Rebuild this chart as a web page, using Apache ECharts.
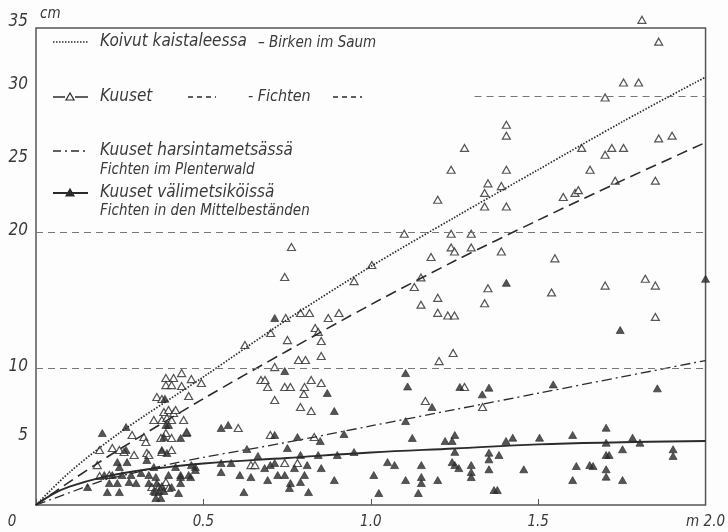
<!DOCTYPE html>
<html>
<head>
<meta charset="utf-8">
<script src="https://cdn.jsdelivr.net/npm/echarts@6/dist/echarts.min.js"></script>
<style>
  html, body { margin: 0; padding: 0; background: #fdfdfd; }
  #chart { width: 728px; height: 532px; }
</style>
</head>
<body>
<div id="chart"></div>
<script>
// Diameter (cm) against height (m) for birches and spruces

// x positions (m) for the fitted curves
var curveX = [0, 0.1, 0.25, 0.5, 0.75, 1.0, 1.25, 1.5, 1.75, 2.0];
// Koivut kaistaleessa – Birken im Saum (dotted)
var birchY = [0, 2.4, 5.3, 9.4, 13.6, 17.5, 21.1, 24.6, 28.1, 31.4];
// Kuuset – Fichten (dashed)
var spruceY = [0, 1.7, 4.1, 7.8, 11.3, 14.7, 17.9, 20.9, 23.8, 26.6];

// Kuuset harsintametsässä – Fichten im Plenterwald (dash-dot)
var plenterX = [0, 0.1, 0.2, 0.3, 0.4, 0.5, 0.75, 1.0, 1.25, 1.5, 1.75, 2.0];
var plenterY = [0, 0.9, 1.8, 2.4, 3.0, 3.5, 4.6, 5.8, 7.0, 8.2, 9.4, 10.6];

// Kuuset välimetsiköissä – Fichten in den Mittelbeständen (solid)
var mittelX = [0, 0.05, 0.1, 0.2, 0.3, 0.4, 0.5, 0.75, 1.0, 1.25, 1.5, 1.75, 2.0];
var mittelY = [0, 0.8, 1.35, 2.05, 2.5, 2.8, 3.05, 3.45, 3.85, 4.15, 4.45, 4.6, 4.7];

// Measured spruces (open triangles): [height m, diameter cm]
var spruceTrees = [
  [1.81,35.6],[1.86,34.0],[1.755,31.0],[1.80,31.0],[1.70,29.9],[1.405,27.9],[1.405,27.1],[1.28,26.2],
  [1.63,26.2],[1.70,25.7],[1.72,26.2],[1.755,26.2],[1.86,26.9],[1.90,27.1],[1.405,24.6],[1.655,24.6],
  [1.24,24.6],[1.35,23.6],[1.39,23.4],[1.34,22.9],[1.34,21.9],[1.405,21.9],[1.73,23.8],[1.85,23.8],
  [1.575,22.6],[1.61,22.9],[1.62,23.1],[1.20,22.4],[1.10,19.9],[1.24,19.9],[1.30,19.9],[1.24,18.9],
  [1.25,18.6],[1.30,18.9],[1.39,18.6],[1.18,18.2],[1.55,18.1],[1.15,16.7],[1.13,16.0],[1.35,15.9],
  [1.54,15.6],[1.70,16.1],[1.82,16.6],[1.85,16.1],[1.15,14.7],[1.20,15.2],[1.20,14.1],[1.23,13.9],
  [1.25,13.9],[1.34,14.8],[1.85,13.8],[1.246,11.15],[1.204,10.56],[1.163,7.63],[1.334,7.19],[1.28,8.66],
  [0.763,18.93],[0.743,16.73],[1.003,17.61],[0.95,16.43],[0.746,13.72],[0.79,14.09],[0.817,14.09],
  [0.873,13.72],[0.905,14.09],[0.701,12.62],[0.751,12.1],[0.834,12.99],[0.843,12.7],[0.852,12.03],
  [0.624,11.74],[0.784,10.64],[0.805,10.64],[0.852,10.93],[0.713,10.12],[0.672,9.17],[0.684,9.17],
  [0.692,8.66],[0.743,8.66],[0.76,8.66],[0.802,8.66],[0.822,9.17],[0.852,8.95],[0.80,8.14],[0.713,7.7],
  [0.79,7.19],[0.822,6.9],[0.70,5.14],[0.831,4.99],[0.642,2.93],[0.654,2.93],[0.743,3.08],[0.781,3.08],
  [0.604,5.65],[0.464,9.24],[0.494,8.95],[0.435,9.68],[0.388,9.32],[0.411,9.32],[0.388,8.8],[0.405,8.8],
  [0.435,8.73],[0.361,7.92],[0.376,7.78],[0.456,8.0],[0.382,6.82],[0.396,6.97],[0.411,6.75],[0.417,6.97],
  [0.352,6.24],[0.376,6.24],[0.391,6.38],[0.405,6.24],[0.441,6.24],[0.45,5.36],[0.388,5.28],[0.373,4.92],
  [0.405,4.92],[0.322,4.99],[0.287,5.14],[0.328,4.62],[0.19,4.04],[0.228,4.18],[0.249,4.04],[0.293,3.67],
  [0.331,3.82],[0.376,3.89],[0.405,4.04],[0.346,1.32],[0.367,1.32],[0.388,1.69],[0.396,1.25],[0.358,0.95],
  [0.183,2.93],[0.19,2.13],[0.219,2.2],[0.263,3.89],[0.337,3.67]
];

// Measured spruces of the Mittelbestände (filled triangles): [height m, diameter cm]
var mittelTrees = [
  [1.405,16.3],[2.0,16.6],[1.745,12.84],[1.333,8.12],[1.353,8.61],[1.545,8.85],[1.856,8.56],[1.703,5.67],
  [1.424,4.94],[1.404,4.7],[1.504,4.94],[1.603,5.14],[1.703,4.57],[1.782,4.94],[1.804,4.57],[1.353,3.84],
  [1.353,3.35],[1.383,3.67],[1.353,2.62],[1.457,2.62],[1.614,2.86],[1.654,2.93],[1.664,2.86],[1.703,3.67],
  [1.712,3.67],[1.752,4.09],[1.703,2.62],[1.703,2.08],[1.603,1.83],[1.752,1.83],[1.903,4.09],[1.903,3.6],
  [1.368,1.1],[1.378,1.1],[1.104,9.68],[1.11,8.7],[1.266,8.66],[1.183,7.19],[1.104,6.16],[1.124,4.92],
  [1.222,4.7],[1.243,4.7],[1.251,5.14],[1.251,3.9],[1.05,3.15],[1.071,2.93],[1.151,2.93],[1.243,3.15],
  [1.251,2.93],[1.263,2.71],[1.30,2.93],[1.30,2.42],[1.30,2.05],[1.009,2.2],[1.104,1.83],[1.151,2.05],
  [1.151,1.61],[1.20,1.83],[1.024,0.88],[1.142,0.88],[0.713,13.72],[0.743,9.83],[0.87,8.22],[0.891,6.9],
  [0.713,5.14],[0.781,4.99],[0.849,4.7],[0.92,5.21],[0.751,4.18],[0.63,4.11],[0.663,3.6],[0.79,3.67],
  [0.843,3.67],[0.9,3.67],[0.95,3.89],[0.683,2.71],[0.70,2.93],[0.713,3.08],[0.772,2.71],[0.81,2.93],
  [0.852,2.71],[0.609,2.2],[0.642,2.05],[0.692,1.83],[0.722,2.2],[0.743,2.2],[0.76,1.61],[0.757,1.25],
  [0.802,2.2],[0.79,1.69],[0.891,1.83],[0.621,0.95],[0.814,0.95],[0.198,5.28],[0.269,5.72],[0.388,5.87],
  [0.396,5.87],[0.432,4.92],[0.45,5.28],[0.553,5.65],[0.574,5.87],[0.553,3.08],[0.583,3.08],[0.553,2.42],
  [0.476,2.79],[0.462,2.05],[0.432,2.2],[0.385,7.8],[0.382,4.99],[0.269,4.04],[0.376,4.04],[0.391,3.82],
  [0.243,3.15],[0.272,3.15],[0.249,2.79],[0.331,3.3],[0.352,2.79],[0.417,2.79],[0.464,2.93],[0.476,2.57],
  [0.204,2.2],[0.228,2.2],[0.257,2.2],[0.284,2.2],[0.314,2.35],[0.337,2.2],[0.358,2.05],[0.396,2.2],
  [0.432,2.05],[0.456,2.2],[0.219,1.61],[0.243,1.61],[0.278,1.69],[0.299,1.61],[0.337,1.61],[0.361,1.61],
  [0.376,1.39],[0.405,1.32],[0.432,1.61],[0.154,1.32],[0.213,0.95],[0.249,0.95],[0.352,1.03],[0.367,1.03],
  [0.382,1.03],[0.426,0.88],[0.358,0.51],[0.373,0.51]
];

// Axis tick labels
var xTickLabels = { 0: '0', 0.5: '0.5', 1: '1.0', 1.5: '1.5', 2: 'm 2.0' };
var yTickLabels = { 5: '5', 10: '10', 20: '20', 25: '25', 30: '30', 35: '35' };

// Dashed reference levels (cm); the 30 cm level starts at 1.31 m
var refLevels = [10, 20];
var partialLevel = { from: 1.31, to: 2.0, y: 30 };

var INK = '#2b2b2b';
var TEXT = '#3a3a3a';
var FONT = "'DejaVu Sans Condensed', 'DejaVu Sans', sans-serif";

// How far (px) each y label sits above its tick
var yLabelLift = { 5: 1, 10: 2, 20: 2, 25: 7, 30: 12, 35: 6 };

function pairs(xs, ys) {
  return xs.map(function (x, i) { return [x, ys[i]]; });
}

var chart = echarts.init(document.getElementById('chart'), null, { renderer: 'canvas' });

// Legend drawn as graphic: line samples + two-language captions
var L = { x1: 53, x2: 88, tx: 100, r1: 42, r2: 97, r3: 151, r3b: 170, r4: 193, r4b: 211 };
function sample(y, dash, width) {
  return { type: 'line', shape: { x1: L.x1, y1: y, x2: L.x2, y2: y },
           style: { stroke: INK, lineWidth: width || 1.5, lineDash: dash || null } };
}
function tri(cx, cy, filled) {
  return { type: 'polygon', shape: { points: [[cx, cy - 4], [cx - 4, cy + 3], [cx + 4, cy + 3]] },
           style: { fill: filled ? INK : '#fff', stroke: INK, lineWidth: 1.2 } };
}
function txt(x, y, s, size) {
  return { type: 'text', x: x, y: y,
           style: { text: s, fill: TEXT, font: 'italic ' + size + 'px ' + FONT, verticalAlign: 'middle' } };
}

var legendGraphic = [
  sample(L.r1, [1.5, 1.5], 1.6),
  txt(L.tx, L.r1, 'Koivut kaistaleessa', 17),
  txt(258, L.r1 + 1, '– Birken im Saum', 15),

  { type: 'line', shape: { x1: L.x1, y1: L.r2, x2: 65, y2: L.r2 }, style: { stroke: INK, lineWidth: 1.5 } },
  { type: 'line', shape: { x1: 75, y1: L.r2, x2: L.x2, y2: L.r2 }, style: { stroke: INK, lineWidth: 1.5 } },
  tri(70, L.r2, false),
  txt(L.tx, L.r2, 'Kuuset', 17),
  { type: 'line', shape: { x1: 188, y1: L.r2, x2: 216, y2: L.r2 }, style: { stroke: INK, lineWidth: 1.3, lineDash: [5, 4] } },
  txt(248, L.r2, '- Fichten', 16),
  { type: 'line', shape: { x1: 333, y1: L.r2, x2: 362, y2: L.r2 }, style: { stroke: INK, lineWidth: 1.3, lineDash: [5, 4] } },

  sample(L.r3, [8, 4, 2, 4], 1.3),
  txt(L.tx, L.r3, 'Kuuset harsintametsässä', 17),
  txt(L.tx, L.r3b, 'Fichten im Plenterwald', 15),

  { type: 'line', shape: { x1: L.x1, y1: L.r4, x2: L.x2, y2: L.r4 }, style: { stroke: INK, lineWidth: 1.8 } },
  tri(70, L.r4, true),
  txt(L.tx, L.r4, 'Kuuset välimetsiköissä', 17),
  txt(L.tx, L.r4b, 'Fichten in den Mittelbeständen', 15),

  txt(40, 14, 'cm', 15)
];

// rich styles that lift each y label by its own amount
var yRich = {};
Object.keys(yLabelLift).forEach(function (k) {
  yRich['v' + k] = { padding: [0, 0, yLabelLift[k] * 2, 0], fontStyle: 'italic',
                     fontSize: 17, fontFamily: FONT, color: TEXT };
});

var option = {
  backgroundColor: '#fdfdfd',
  animation: false,
  grid: { left: 36, right: 15, top: 28, bottom: 27, show: true,
          borderColor: '#555', borderWidth: 1.5, backgroundColor: 'transparent' },
  xAxis: {
    type: 'value', min: 0, max: 2, interval: 0.5,
    axisLine: { show: false },
    axisTick: { show: true, inside: true, length: 6, lineStyle: { color: '#555' } },
    splitLine: { show: false },
    axisLabel: {
      margin: 10, color: TEXT, fontStyle: 'italic', fontSize: 15, fontFamily: FONT,
      formatter: function (v) {
        var s = xTickLabels[v];
        if (s === undefined) return '';
        if (v === 0) return '{o|' + s + '}';
        return s;
      },
      rich: { o: { padding: [0, 48, 0, 0], fontStyle: 'italic', fontSize: 15, fontFamily: FONT, color: TEXT } }
    }
  },
  yAxis: {
    type: 'value', min: 0, max: 35, interval: 5,
    axisLine: { show: false },
    axisTick: { show: false },
    splitLine: { show: false },
    axisLabel: {
      margin: 8, color: TEXT, fontStyle: 'italic', fontSize: 17, fontFamily: FONT,
      formatter: function (v) {
        var s = yTickLabels[v];
        return s ? '{v' + v + '|' + s + '}' : '';
      },
      rich: yRich
    }
  },
  graphic: legendGraphic,
  series: [
    {
      type: 'line', name: 'Koivut kaistaleessa', data: pairs(curveX, birchY),
      smooth: 0.3, showSymbol: false, silent: true,
      lineStyle: { color: INK, width: 1.7, type: [1.5, 1.6] },
      markLine: {
        silent: true, symbol: 'none', label: { show: false },
        lineStyle: { color: '#777', width: 1, type: [7, 5] },
        data: refLevels.map(function (v) { return { yAxis: v }; }).concat([
          [{ coord: [partialLevel.from, partialLevel.y] }, { coord: [partialLevel.to, partialLevel.y] }]
        ])
      }
    },
    {
      type: 'line', name: 'Kuuset', data: pairs(curveX, spruceY),
      smooth: 0.3, showSymbol: false, silent: true,
      lineStyle: { color: INK, width: 1.6, type: [11, 6] }
    },
    {
      type: 'line', name: 'Kuuset harsintametsässä', data: pairs(plenterX, plenterY),
      smooth: 0.3, showSymbol: false, silent: true,
      lineStyle: { color: INK, width: 1.3, type: [10, 4, 2, 4] }
    },
    {
      type: 'line', name: 'Kuuset välimetsiköissä', data: pairs(mittelX, mittelY),
      smooth: 0.4, showSymbol: false, silent: true,
      lineStyle: { color: INK, width: 1.9 }
    },
    {
      type: 'scatter', name: 'Kuuset (puut)', data: spruceTrees, clip: false,
      symbol: 'triangle', symbolSize: [8, 7],
      itemStyle: { color: '#fff', borderColor: INK, borderWidth: 1.2 }
    },
    {
      type: 'scatter', name: 'Mittelbestände (puut)', data: mittelTrees, clip: false,
      symbol: 'triangle', symbolSize: [8, 7],
      itemStyle: { color: INK, borderColor: INK, borderWidth: 0.8 }
    }
  ]
};

chart.setOption(option);
</script>
</body>
</html>
